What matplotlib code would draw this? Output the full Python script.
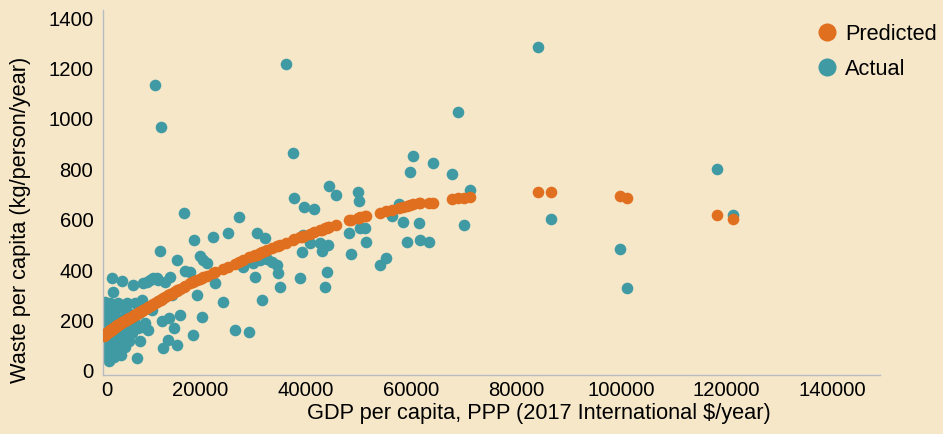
import matplotlib
matplotlib.use("Agg")
from matplotlib import pyplot as plt
from matplotlib.lines import Line2D

# GDP per capita (2017 intl $), actual waste and predicted waste (kg/person/year)
gdp = [1800, 1850, 1900, 1950, 2000, 2050, 2100, 2200, 2300, 2400, 2500, 2600, 2700, 2800, 2900,
       3000, 3100, 3200, 3300, 3400, 3500, 3600, 3700, 3850, 4000, 4100, 4300, 4480, 4600, 4800,
       5000, 5130, 5300, 5500, 5700, 5900, 6070, 6200, 6300, 6500, 6700, 7000, 7330, 7500, 7650,
       7970, 8200, 8500, 8600, 8930, 9100, 9230, 9500, 9870, 10200, 10500, 10800, 11130, 11450,
       11770, 12080, 12400, 12590, 12700, 13030, 13350, 13980, 14100, 14300, 14600, 15000, 15570,
       15700, 16200, 16960, 17150, 18100, 18720, 18920, 19500, 20000, 20310, 20620, 21270, 22530,
       22800, 24300, 25260, 26640, 27420, 28220, 29340, 30120, 30500, 30760, 31390, 31710, 32340,
       32660, 33610, 34560, 34870, 35190, 36270, 37660, 37900, 38990, 39310, 39620, 39810, 40880,
       41710, 42790, 43110, 43730, 44050, 44360, 44500, 45890, 48310, 48610, 50060, 50250, 50380,
       51330, 51460, 54180, 55260, 56400, 57850, 58600, 59370, 59940, 60500, 61590, 61800, 63480,
       64300, 67910, 69050, 70130, 71270, 84180, 86650, 99760, 101090, 118200, 121200]

actual = [250, 90, 160, 275, 60, 196, 130, 242, 105, 180, 70, 215, 150, 40, 268,
          120, 95, 370, 200, 160, 315, 55, 230, 135, 85, 190, 250, 268, 110, 160,
          62, 357, 210, 140, 95, 240, 268, 150, 180, 120, 225, 150, 341, 200, 268,
          50, 170, 230, 120, 282, 175, 348, 190, 352, 163, 361, 240, 368, 1134,
          368, 361, 477, 967, 200, 90, 354, 123, 210, 374, 300, 169, 440,
          103, 222, 627, 398, 394, 143, 520, 300, 456, 216, 440, 427, 533,
          348, 275, 549, 163, 612, 414, 156, 427, 372, 549, 440, 282, 526,
          443, 434, 420, 388, 334, 1217, 866, 687, 368, 473, 540, 652, 509,
          644, 506, 476, 334, 394, 500, 734, 698, 549, 465, 711, 674, 566,
          566, 513, 420, 448, 615, 662, 591, 513, 788, 853, 586, 520, 513,
          824, 781, 1027, 578, 718, 1284, 603, 483, 329, 801, 619]

predicted = [140, 141, 142, 143, 145, 146, 147, 149, 150, 152, 153, 155, 156, 158, 159,
             161, 162, 164, 165, 167, 169, 170, 172, 174, 176, 178, 181, 184, 185, 188,
             191, 193, 195, 198, 200, 202, 204, 206, 207, 209, 212, 215, 219, 221, 223,
             227, 230, 234, 235, 239, 241, 243, 246, 250, 254, 258, 261, 265, 269,
             273, 277, 281, 283, 284, 288, 292, 300, 301, 304, 307, 312, 318,
             320, 326, 334, 336, 347, 353, 355, 361, 366, 369, 372, 378, 390,
             392, 404, 412, 424, 432, 440, 451, 457, 460, 462, 467, 470, 475,
             478, 486, 494, 497, 500, 509, 521, 523, 531, 533, 535, 537, 544,
             550, 558, 561, 566, 568, 570, 571, 580, 598, 600, 607, 608, 609,
             615, 616, 626, 633, 640, 646, 651, 655, 658, 661, 665, 666, 666,
             668, 682, 685, 688, 690, 710, 710, 694, 686, 619, 603]

x_ticks = [2300, 20000, 40000, 60000, 80000, 100000, 120000, 140000]
x_tick_labels = ["0", "20000", "40000", "60000", "80000", "100000", "120000", "140000"]
y_ticks = [0, 200, 400, 600, 800, 1000, 1200, 1400]

BG = "#F6E7C9"
ORANGE = "#E07020"
TEAL = "#409AA3"
SPINE = "#B8BCC0"
TICK_FS = 14.6
LABEL_FS = 15.7

plt.rcParams["font.family"] = ["Liberation Sans", "DejaVu Sans"]

fig = plt.figure(figsize=(9.43, 4.34), dpi=100, facecolor=BG)
ax = fig.add_axes([103 / 943, 59 / 434, 777 / 943, 365 / 434], facecolor=BG)

ax.scatter(gdp, actual, s=70, color=TEAL, linewidths=0, zorder=2)
ax.scatter(gdp, predicted, s=70, color=ORANGE, linewidths=0, zorder=3)

ax.set_xlim(1580, 149100)
ax.set_ylim(-16, 1432)
ax.set_xticks(x_ticks, labels=x_tick_labels)
ax.set_yticks(y_ticks)
ax.tick_params(axis="x", length=0, labelsize=TICK_FS, pad=4.5, colors="black")
ax.tick_params(axis="y", length=0, labelsize=TICK_FS, pad=7, colors="black")

for side in ("top", "right"):
    ax.spines[side].set_visible(False)
for side in ("left", "bottom"):
    ax.spines[side].set_color(SPINE)
    ax.spines[side].set_linewidth(1.0)

ax.set_xlabel("GDP per capita, PPP (2017 International $/year)", fontsize=LABEL_FS)
ax.set_ylabel("Waste per capita (kg/person/year)", fontsize=LABEL_FS)
ax.xaxis.set_label_coords((539 - 103) / 777, -(403 - 375) / 365)
ax.yaxis.set_label_coords(-(103 - 31) / 777, (375 - 220) / 365)

handles = [
    Line2D([], [], marker="o", linestyle="", markersize=13, color=ORANGE, markeredgewidth=0),
    Line2D([], [], marker="o", linestyle="", markersize=13, color=TEAL, markeredgewidth=0),
]
fig.legend(handles, ["Predicted", "Actual"], loc="upper left",
           bbox_to_anchor=(816 / 943, 1 - 24 / 434), frameon=False,
           fontsize=LABEL_FS, handlelength=1.0, handletextpad=0.35,
           labelspacing=0.62, borderaxespad=0, borderpad=0)

fig.savefig("out.png", dpi=100, facecolor=BG)
